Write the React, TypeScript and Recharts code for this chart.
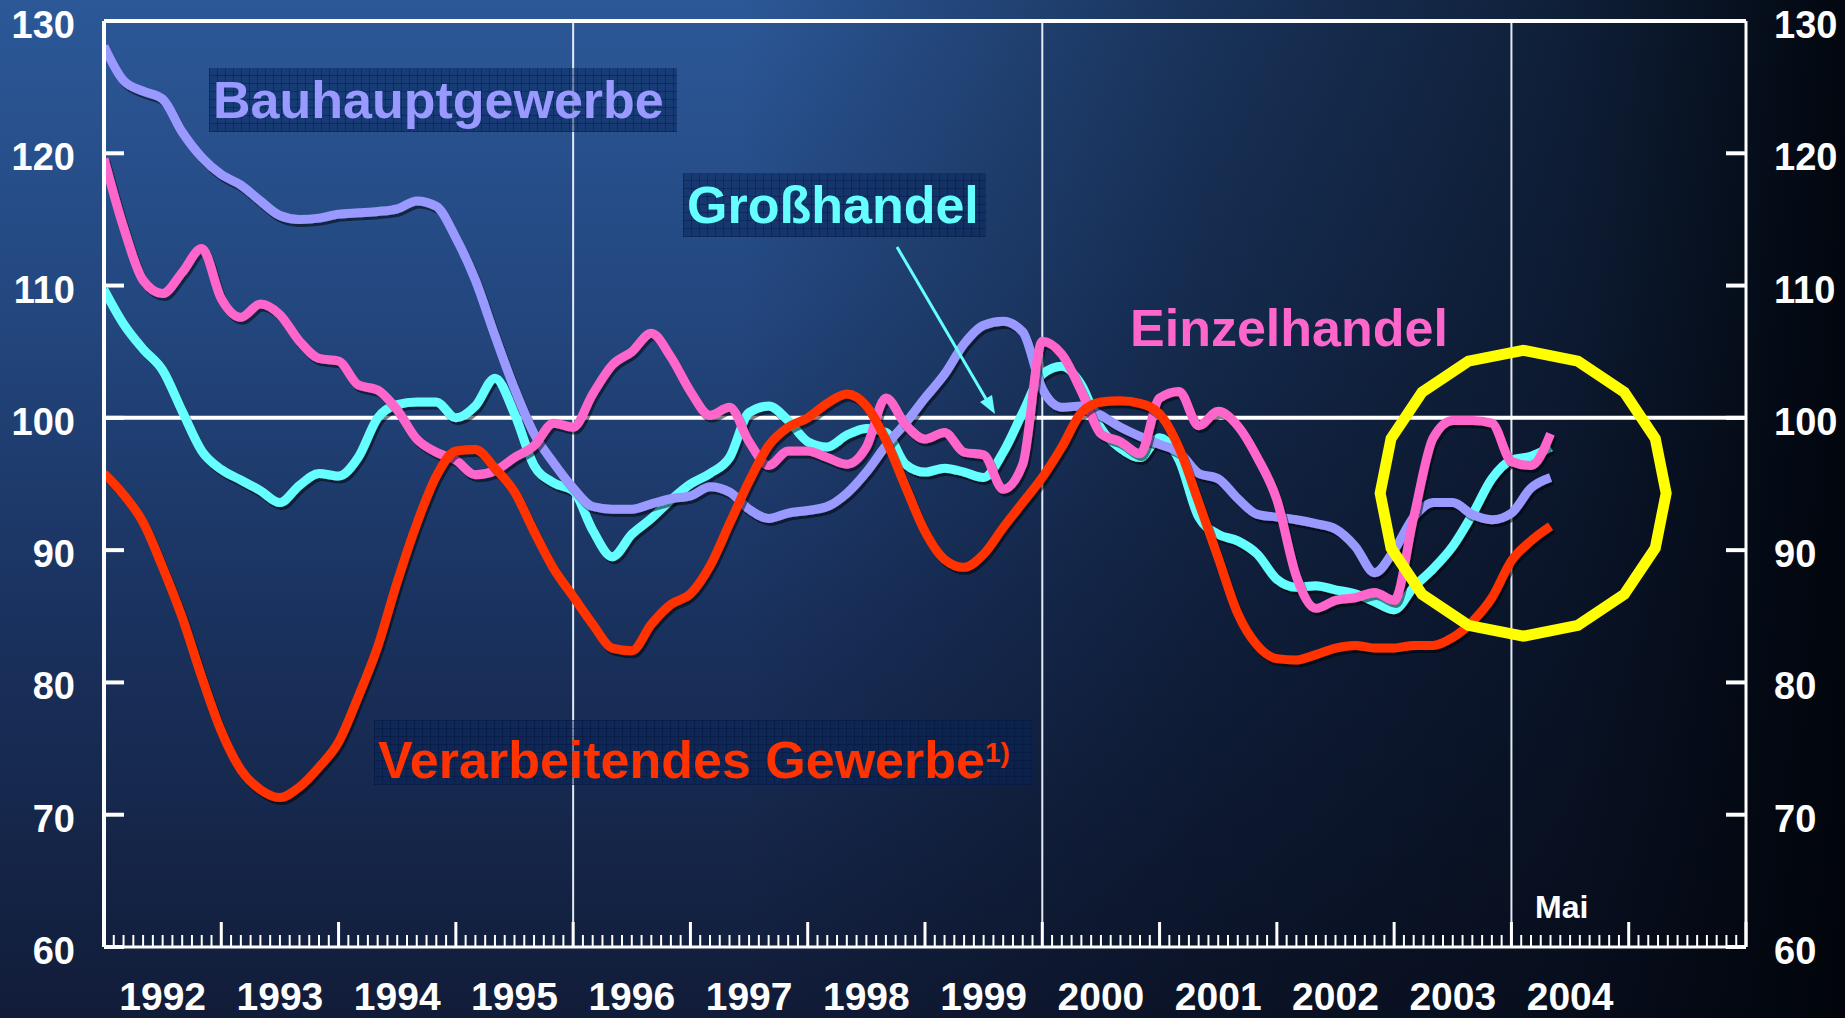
import React from 'react';
import { LineChart, Line, XAxis, YAxis, ReferenceLine, ReferenceDot } from 'recharts';

// Geschäftsklima nach Wirtschaftsbereichen, Jan 1992 - Mai 2004, Werte alle 2 Monate
const FIRST_YEAR = 1992;
const LAST_YEAR = 2006;
const STEP_MONTHS = 2;

const BAUHAUPTGEWERBE = [
  128.1, 125.5, 124.7, 124.1, 121.6, 119.7, 118.4, 117.6, 116.4, 115.3, 115.0, 115.1,
  115.4, 115.5, 115.6, 115.8, 116.4, 116.0, 113.6, 110.4, 106.2, 102.2, 98.8, 96.6,
  94.7, 93.3, 93.1, 93.1, 93.5, 93.9, 94.1, 94.8, 94.4, 93.1, 92.4, 92.8,
  93.0, 93.3, 94.3, 95.9, 97.9, 99.6, 101.5, 103.3, 105.6, 107.0, 107.3, 106.5,
  102.2, 100.8, 100.9, 100.2, 99.3, 98.6, 98.0, 97.4, 95.8, 95.4, 93.9, 92.7,
  92.5, 92.3, 92.0, 91.6, 90.3, 88.3, 90.0, 92.5, 93.6, 93.6, 92.7, 92.3,
  92.8, 94.7, 95.5,
];
const GROSSHANDEL = [
  109.7, 107.1, 105.2, 103.6, 100.5, 97.5, 96.1, 95.3, 94.5, 93.6, 94.9, 95.8,
  95.6, 97.0, 100.0, 101.0, 101.2, 101.2, 100.0, 100.9, 103.0, 100.3, 96.4, 95.1,
  94.5, 91.5, 89.5, 91.2, 92.4, 93.8, 95.0, 95.8, 97.0, 100.4, 100.9, 99.8,
  98.2, 97.8, 98.7, 99.2, 98.9, 96.5, 95.9, 96.2, 95.9, 95.5, 97.4, 100.4,
  103.3, 103.9, 102.5, 99.2, 97.7, 97.0, 98.5, 96.8, 92.5, 91.2, 90.7, 89.7,
  87.8, 87.2, 87.3, 87.0, 86.7, 86.1, 85.5, 87.2, 88.6, 90.3, 92.7, 95.4,
  96.8, 97.1, 97.8,
];
const EINZELHANDEL = [
  119.6, 114.4, 110.4, 109.4, 111.0, 112.8, 109.0, 107.6, 108.6, 107.8, 105.8, 104.5,
  104.3, 102.5, 102.1, 100.6, 98.4, 97.4, 96.8, 95.7, 96.0, 97.0, 97.9, 99.6,
  99.3, 101.8, 104.0, 105.0, 106.4, 104.6, 102.0, 100.2, 100.8, 98.2, 96.4, 97.5,
  97.5, 97.0, 96.5, 97.8, 101.5, 99.5, 98.4, 98.9, 97.4, 97.2, 94.6, 96.5,
  105.8, 104.8, 102.0, 98.8, 98.2, 97.3, 101.5, 102.0, 99.4, 100.5, 99.4, 97.0,
  93.8, 88.0, 85.6, 86.2, 86.4, 86.8, 86.2, 92.5, 98.5, 99.8, 99.8, 99.6,
  96.7, 96.4, 98.8,
];
const VERARBEITENDES_GEWERBE = [
  95.8, 94.2, 92.1, 88.7, 84.9, 80.4, 76.3, 73.4, 71.9, 71.3, 72.1, 73.6,
  75.5, 78.9, 82.7, 87.6, 92.0, 95.6, 97.5, 97.6, 96.2, 94.4, 91.4, 88.6,
  86.5, 84.4, 82.6, 82.4, 84.4, 85.9, 86.7, 88.8, 92.0, 95.2, 97.9, 99.3,
  100.0, 101.1, 101.8, 100.9, 98.3, 94.8, 91.4, 89.3, 88.7, 89.7, 91.7, 93.6,
  95.5, 97.8, 100.4, 101.2, 101.3, 101.1, 100.3, 97.7, 93.6, 89.4, 85.2, 82.8,
  81.8, 81.7, 82.1, 82.6, 82.8, 82.6, 82.6, 82.8, 82.8, 83.4, 84.6, 86.4,
  89.2, 90.7, 91.8,
];

const YEAR_LABELS = ['1992', '1993', '1994', '1995', '1996', '1997', '1998', '1999', '2000', '2001', '2002', '2003', '2004'];
const Y_TICKS = [60, 70, 80, 90, 100, 110, 120, 130];
const GRID_YEARS = [1996, 2000, 2004];
const RING = { year: 2004.1, value: 94.3 };

const W = 1845;
const H = 1018;
const FONT = '"Liberation Sans", Arial, sans-serif';

const data = BAUHAUPTGEWERBE.map((bau, i) => ({
  t: FIRST_YEAR + (i * STEP_MONTHS) / 12,
  bau,
  gross: GROSSHANDEL[i],
  einzel: EINZELHANDEL[i],
  verarb: VERARBEITENDES_GEWERBE[i],
}));

const monthTicks = Array.from({ length: (LAST_YEAR - FIRST_YEAR) * 12 + 1 }, (_, m) => FIRST_YEAR + m / 12);

const SERIES = [
  { key: 'gross', color: '#66ffff' },
  { key: 'bau', color: '#9999ff' },
  { key: 'einzel', color: '#ff66cc' },
  { key: 'verarb', color: '#ff3300' },
];

function MonthTick(props: any) {
  const { x, y, payload } = props;
  const m = Math.round((payload.value - FIRST_YEAR) * 12);
  const major = m % 12 === 0;
  const label = m % 12 === 6 ? YEAR_LABELS[(m - 6) / 12] : undefined;
  return (
    <g>
      <line x1={x} x2={x} y1={y} y2={y - (major ? 25 : 12)} stroke="#fff" strokeWidth={major ? 3 : 2} />
      {label && (
        <text x={x} y={y + 63} textAnchor="middle" fill="#fff" fontSize={39} fontWeight="bold" fontFamily={FONT}>
          {label}
        </text>
      )}
    </g>
  );
}

function LeftTick(props: any) {
  const { x, y, payload } = props;
  const axisX = x + 29;
  return (
    <g>
      <line x1={axisX} x2={axisX + 20} y1={y} y2={y} stroke="#fff" strokeWidth={4} />
      <text x={x} y={y} dy={4} textAnchor="end" dominantBaseline="central" fill="#fff" fontSize={38} fontWeight="bold" fontFamily={FONT}>
        {payload.value}
      </text>
    </g>
  );
}

function RightTick(props: any) {
  const { x, y, payload } = props;
  const axisX = x - 28;
  return (
    <g>
      <line x1={axisX - 20} x2={axisX} y1={y} y2={y} stroke="#fff" strokeWidth={4} />
      <text x={x} y={y} dy={4} textAnchor="start" dominantBaseline="central" fill="#fff" fontSize={38} fontWeight="bold" fontFamily={FONT}>
        {payload.value}
      </text>
    </g>
  );
}

function Ring(props: any) {
  const { cx, cy } = props;
  const r = 143;
  const pts = Array.from({ length: 16 }, (_, k) => {
    const a = (k * Math.PI) / 8;
    return `${cx + r * Math.cos(a)},${cy + r * Math.sin(a)}`;
  }).join(' ');
  return <polygon points={pts} fill="none" stroke="#ffff00" strokeWidth={11} strokeLinejoin="miter" />;
}

const boxBg =
  'repeating-linear-gradient(0deg, rgba(0,15,50,0.35) 0px, rgba(0,15,50,0.35) 1px, transparent 1px, transparent 8px),' +
  'repeating-linear-gradient(90deg, rgba(0,15,50,0.35) 0px, rgba(0,15,50,0.35) 1px, transparent 1px, transparent 8px),' +
  'rgba(5,35,90,0.5)';

function Label({ text, color, left, top, width, height, boxed, sup }: any) {
  return (
    <div
      style={{
        position: 'absolute',
        left,
        top,
        width,
        height,
        lineHeight: `${height}px`,
        paddingLeft: 4,
        boxSizing: 'border-box',
        background: boxed ? boxBg : 'transparent',
        color,
        fontFamily: FONT,
        fontWeight: 'bold',
        fontSize: 52,
        whiteSpace: 'nowrap',
      }}
    >
      {text}
      {sup && <span style={{ fontSize: 28, verticalAlign: '16px' }}>{sup}</span>}
    </div>
  );
}

export default function App() {
  return (
    <div
      style={{
        position: 'fixed',
        left: 0,
        top: 0,
        width: W,
        height: H,
        overflow: 'hidden',
        fontFamily: FONT,
        background:
          'linear-gradient(90deg, rgba(3,7,16,0) 0%, rgba(3,7,16,0) 40%, rgba(3,7,16,0.45) 65%, rgba(3,7,16,0.7) 85%, rgba(0,3,8,0.95) 100%),' +
          'linear-gradient(180deg, #2c5898 0%, #23477f 30%, #1a325f 60%, #111c38 100%)',
      }}
    >
      <LineChart width={W} height={H} data={data} margin={{ top: 21, right: 0, bottom: 0, left: 0 }}>
        <defs>
          <filter id="tube" filterUnits="userSpaceOnUse" x={0} y={0} width={W} height={H}>
            <feDropShadow dx={2} dy={3} stdDeviation={0.5} floodColor="#000" floodOpacity={0.5} />
          </filter>
        </defs>
        <XAxis
          dataKey="t"
          type="number"
          domain={[FIRST_YEAR, LAST_YEAR]}
          ticks={monthTicks}
          interval={0}
          height={71}
          tickSize={0}
          tickMargin={0}
          tickLine={false}
          tick={<MonthTick />}
          axisLine={{ stroke: '#fff', strokeWidth: 3 }}
          allowDataOverflow
        />
        <YAxis
          yAxisId="left"
          domain={[60, 130]}
          ticks={Y_TICKS}
          interval={0}
          width={104}
          tickSize={0}
          tickMargin={29}
          tickLine={false}
          tick={<LeftTick />}
          axisLine={{ stroke: '#fff', strokeWidth: 4 }}
          allowDataOverflow
        />
        <YAxis
          yAxisId="right"
          orientation="right"
          domain={[60, 130]}
          ticks={Y_TICKS}
          interval={0}
          width={99}
          tickSize={0}
          tickMargin={28}
          tickLine={false}
          tick={<RightTick />}
          axisLine={{ stroke: '#fff', strokeWidth: 3 }}
          allowDataOverflow
        />
        {GRID_YEARS.map((yr) => (
          <ReferenceLine key={yr} yAxisId="left" x={yr} stroke="#e4eaf4" strokeWidth={2} />
        ))}
        <ReferenceLine yAxisId="left" y={100} stroke="#fff" strokeWidth={4} />
        <ReferenceLine yAxisId="left" y={130} stroke="#fff" strokeWidth={4} />
        {SERIES.map((s) => (
          <Line
            key={s.key}
            yAxisId="left"
            type="monotone"
            dataKey={s.key}
            stroke={s.color}
            strokeWidth={9}
            dot={false}
            activeDot={false}
            isAnimationActive={false}
            filter="url(#tube)"
          />
        ))}
        <ReferenceDot yAxisId="left" x={RING.year} y={RING.value} r={143} ifOverflow="visible" shape={(p: any) => <Ring {...p} />} />
      </LineChart>

      <Label text="Bauhauptgewerbe" color="#9999ff" left={209} top={68} width={468} height={64} boxed />
      <Label text="Großhandel" color="#66ffff" left={683} top={173} width={303} height={64} boxed />
      <Label text="Einzelhandel" color="#ff66cc" left={1126} top={296} width={340} height={64} />
      <Label text="Verarbeitendes Gewerbe" sup="1)" color="#ff3300" left={374} top={720} width={659} height={65} boxed />

      <div
        style={{
          position: 'absolute',
          left: 1535,
          top: 889,
          lineHeight: '36px',
          fontSize: 32,
          fontWeight: 'bold',
          color: '#fff',
          fontFamily: FONT,
        }}
      >
        Mai
      </div>

      <svg width={W} height={H} style={{ position: 'absolute', left: 0, top: 0, pointerEvents: 'none' }}>
        <line x1={897} y1={247} x2={986} y2={399} stroke="#66ffff" strokeWidth={3} />
        <polygon points="995,414 980,402 992,395" fill="#66ffff" />
      </svg>
    </div>
  );
}
